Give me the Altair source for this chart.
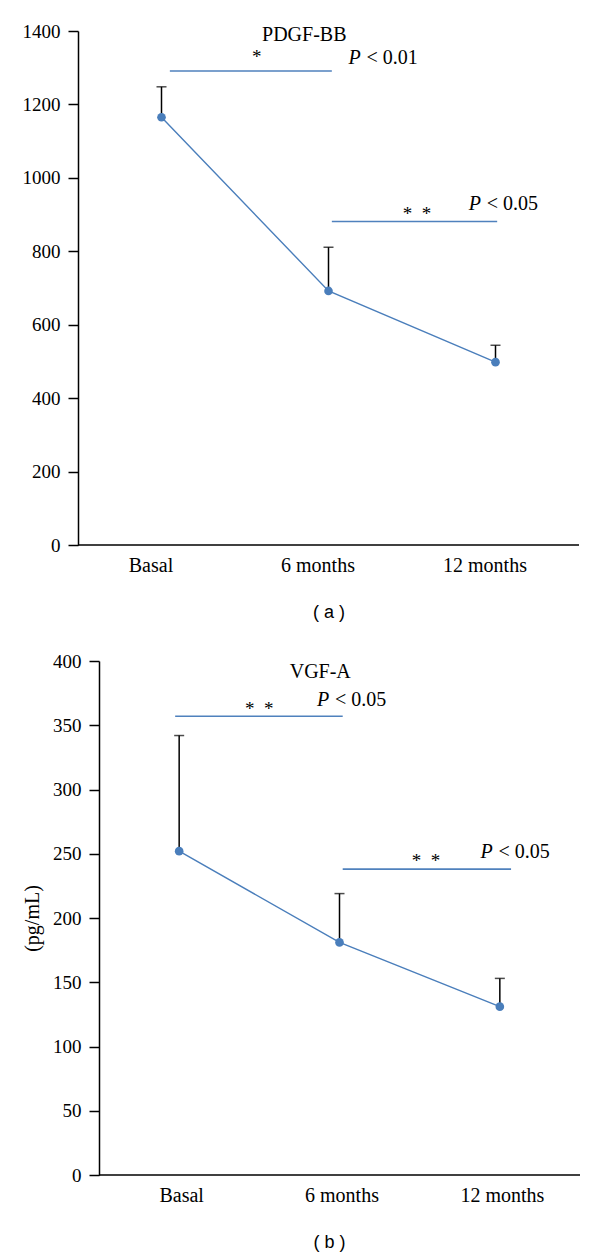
import altair as alt
import pandas as pd

categories = ["Basal", "6 months", "12 months"]
cat_pos = [0.5, 1.5, 2.5]

# Panel (a) PDGF-BB
pdgf_mean = [1165, 692, 498]
pdgf_sd = [83, 119, 46]
pdgf_bar_x = [0.55, 1.52]
pdgf_bar_x2 = [1.52, 2.51]
pdgf_bar_y = [1291, 881]
pdgf_star_x = [1.07, 2.03]
pdgf_star_y = [1313, 885]
pdgf_star_text = ["*", "*\u2002*"]
pdgf_p_x = [1.62, 2.34]
pdgf_p_y = [1310, 913]
pdgf_p_text = ["< 0.01", "< 0.05"]
pdgf_title = ["PDGF-BB"]
pdgf_title_x = [1.355]
pdgf_title_y = [1374]

# Panel (b) VGF-A
vgf_mean = [252, 181, 131]
vgf_sd = [90, 38, 22]
vgf_bar_x = [0.475, 1.52]
vgf_bar_x2 = [1.52, 2.57]
vgf_bar_y = [357, 238]
vgf_star_x = [1.0, 2.04]
vgf_star_y = [358, 240]
vgf_star_text = ["*\u2002*", "*\u2002*"]
vgf_p_x = [1.36, 2.38]
vgf_p_y = [365, 247]
vgf_p_text = ["< 0.05", "< 0.05"]
vgf_title = ["VGF-A"]
vgf_title_x = [1.38]
vgf_title_y = [387]

BLUE = "#4A7EBB"
SERIF = "Liberation Serif"

label_expr = " : ".join(
    f"datum.value == {p} ? '{c}'" for p, c in zip(cat_pos[:-1], categories[:-1])
) + f" : '{categories[-1]}'"


def panel(mean, sd, ymax, ystep, plot_w, inset, tag, ytitle, label_offset,
          bx, bx2, by, sx, sy, stext, px, py, ptext, ttext, tx, ty):
    # inset: pixels between the view's left edge and the y axis (panel b is indented)
    xmin = -3.0 * inset / plot_w
    xs = alt.Scale(domain=[xmin, 3], nice=False, zero=False)
    ys = alt.Scale(domain=[0, ymax], nice=False)
    xaxis = alt.Axis(values=cat_pos, labelExpr=label_expr, ticks=False, grid=False,
                     labelFont=SERIF, labelFontSize=20, labelPadding=10,
                     labelOffset=label_offset, labelColor="black",
                     domain=False,
                     title=tag, titleFont="Liberation Sans", titleFontSize=18,
                     titleFontWeight="normal", titlePadding=28, titleColor="black")
    yargs = dict(values=list(range(0, ymax + 1, ystep)), grid=False, format="d",
                 labelFont=SERIF, labelFontSize=19, labelPadding=8, labelColor="black",
                 tickSize=10, tickColor="black", tickWidth=1.5,
                 domainColor="black", domainWidth=1.5, offset=-inset)
    if ytitle:
        yaxis = alt.Axis(title=ytitle, titleFont=SERIF, titleFontSize=20,
                         titleFontWeight="normal", titlePadding=10, titleColor="black", **yargs)
    else:
        yaxis = alt.Axis(title=None, **yargs)

    X = alt.X("x:Q", scale=xs, axis=xaxis)
    Y = alt.Y("y:Q", scale=ys, axis=yaxis)

    pts = pd.DataFrame({"x": cat_pos, "cat": categories, "y": mean,
                        "y2": [m + s for m, s in zip(mean, sd)]})
    bars = pd.DataFrame({"x": bx, "x2": bx2, "y": by})
    stars = pd.DataFrame({"x": sx, "y": sy, "t": stext})
    ps = pd.DataFrame({"x": px, "y": py, "t": ptext})
    tt = pd.DataFrame({"x": tx, "y": ty, "t": ttext})
    base = pd.DataFrame({"x": [0], "x2": [3], "y": [0]})

    baseline = alt.Chart(base).mark_rule(color="black", strokeWidth=1.5).encode(
        x=X, x2="x2:Q", y=Y)
    err = alt.Chart(pts).mark_rule(color="black", strokeWidth=1.5).encode(
        x=X, y=Y, y2="y2:Q")
    cap = alt.Chart(pts).mark_tick(color="black", orient="horizontal", size=10,
                                   thickness=1.5).encode(x=X, y=alt.Y("y2:Q", scale=ys, axis=yaxis))
    line = alt.Chart(pts).mark_line(color=BLUE, strokeWidth=1.4).encode(x=X, y=Y)
    dots = alt.Chart(pts).mark_circle(color=BLUE, size=75, opacity=1).encode(x=X, y=Y)
    sig = alt.Chart(bars).mark_rule(color="#4F81BD", strokeWidth=1.6).encode(
        x=X, x2="x2:Q", y=Y)
    st = alt.Chart(stars).mark_text(font=SERIF, fontSize=19, align="center",
                                    baseline="alphabetic", color="black").encode(
        x=X, y=Y, text="t:N")
    pp = alt.Chart(ps).mark_text(font=SERIF, fontSize=20, fontStyle="italic",
                                 align="left", baseline="alphabetic", color="black").encode(
        x=X, y=Y, text=alt.value("P"))
    pv = alt.Chart(ps).mark_text(font=SERIF, fontSize=20, align="left", dx=18,
                                 baseline="alphabetic", color="black").encode(
        x=X, y=Y, text="t:N")
    ti = alt.Chart(tt).mark_text(font=SERIF, fontSize=20, align="center",
                                 baseline="alphabetic", color="black").encode(
        x=X, y=Y, text="t:N")
    return alt.layer(baseline, err, cap, sig, line, dots, st, pp, pv, ti).properties(
        width=plot_w + inset, height=514)


a = panel(pdgf_mean, pdgf_sd, 1400, 200, 501, 0, "( a )", None, -11,
          pdgf_bar_x, pdgf_bar_x2, pdgf_bar_y, pdgf_star_x, pdgf_star_y, pdgf_star_text,
          pdgf_p_x, pdgf_p_y, pdgf_p_text, pdgf_title, pdgf_title_x, pdgf_title_y)
b = panel(vgf_mean, vgf_sd, 400, 50, 481, 21, "( b )", "(pg/mL)", 2,
          vgf_bar_x, vgf_bar_x2, vgf_bar_y, vgf_star_x, vgf_star_y, vgf_star_text,
          vgf_p_x, vgf_p_y, vgf_p_text, vgf_title, vgf_title_x, vgf_title_y)

chart = alt.vconcat(a, b, spacing=31).properties(
    padding={"left": 14, "top": 14, "right": 2, "bottom": 2},
    background="white",
).configure_view(stroke=None)

chart.save("out.html", embed_options={"renderer": "svg", "actions": False})
